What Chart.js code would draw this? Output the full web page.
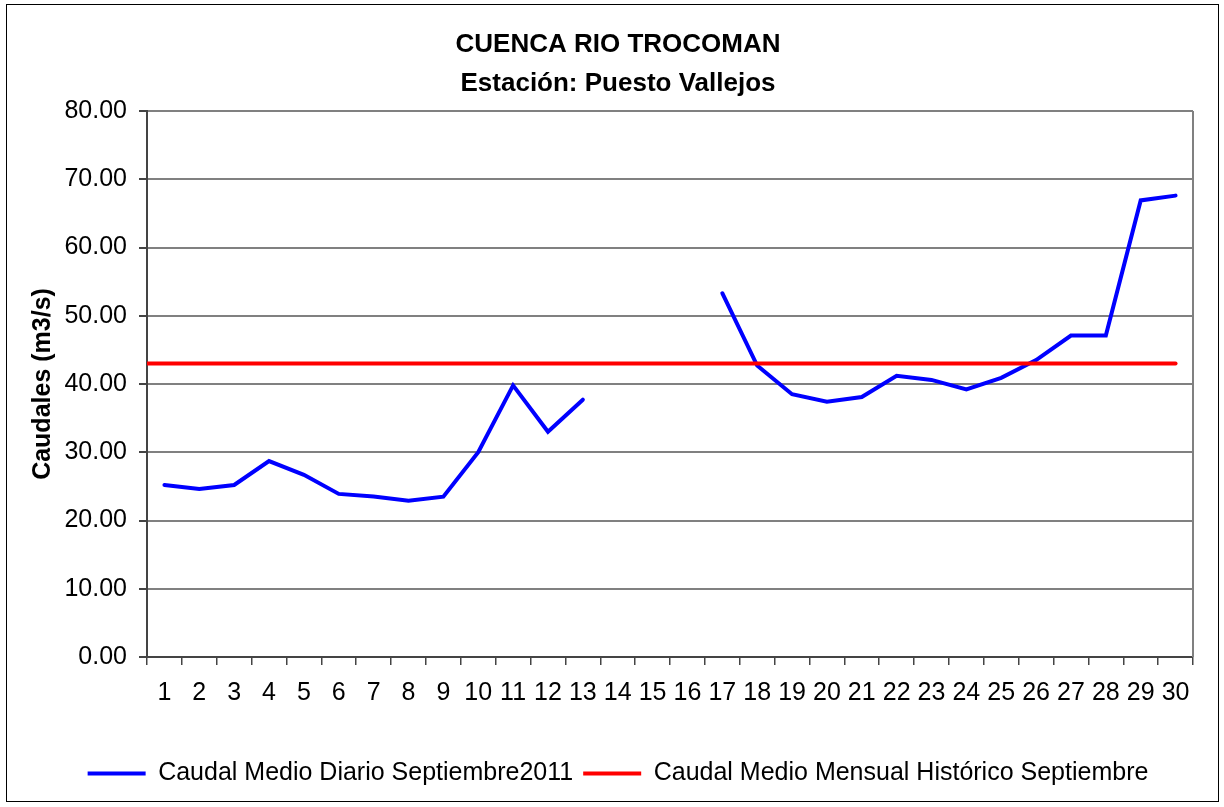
<!DOCTYPE html>
<html>
<head>
<meta charset="utf-8">
<script src="https://cdn.jsdelivr.net/npm/chart.js@4.4.0/dist/chart.umd.min.js"></script>
<style>
  body { margin: 0; background: #fff; }
  canvas { display: block; }
</style>
</head>
<body>
<canvas id="grafico" width="1224" height="807"></canvas>
<script>
// datos
var dias = ['1','2','3','4','5','6','7','8','9','10','11','12','13','14','15',
            '16','17','18','19','20','21','22','23','24','25','26','27','28','29','30'];
var caudalDiario = [25.2, 24.6, 25.2, 28.7, 26.7, 23.9, 23.5, 22.9, 23.5, 30.0,
                    39.8, 33.0, 37.7, null, null, null, 53.3, 42.7, 38.5, 37.4,
                    38.1, 41.2, 40.6, 39.2, 40.9, 43.5, 47.1, 47.1, 66.9, 67.6];
// caudal medio historico: desde el eje (dia 0.5) hasta el dia 30
var historicoDias = [0.5, 30];
var historicoCaudal = [43.0, 43.0];
var tituloLineas = ['CUENCA RIO TROCOMAN', 'Estación: Puesto Vallejos'];
var nombreDiario = 'Caudal Medio Diario Septiembre2011';
var nombreHistorico = 'Caudal Medio Mensual Histórico Septiembre';

var fuente = "'Liberation Sans', Arial, sans-serif";

// marco exterior + borde derecho del area de trazado
var marcoPlugin = {
  id: 'marco',
  beforeDraw: function(chart) {
    var ctx = chart.ctx;
    ctx.save();
    ctx.fillStyle = '#fff';
    ctx.fillRect(0, 0, chart.width, chart.height);
    ctx.restore();
  },
  afterDraw: function(chart) {
    var ctx = chart.ctx, a = chart.chartArea;
    ctx.save();
    ctx.strokeStyle = '#000';
    ctx.lineWidth = 1;
    ctx.strokeRect(6.5, 4.5, chart.width - 12, chart.height - 10);
    ctx.strokeStyle = '#808080';
    ctx.lineWidth = 2;
    ctx.beginPath();
    ctx.moveTo(a.right, a.top);
    ctx.lineTo(a.right, a.bottom);
    ctx.stroke();
    ctx.restore();
  }
};

var config = {
  type: 'line',
  data: {
    labels: dias,
    datasets: [{
      label: nombreDiario,
      data: caudalDiario,
      borderColor: '#0000ff',
      backgroundColor: '#0000ff',
      borderWidth: 4,
      borderCapStyle: 'round',
      pointRadius: 0,
      spanGaps: false,
      tension: 0,
      order: 1,
      xAxisID: 'x'
    }, {
      label: nombreHistorico,
      data: historicoDias.map(function(d, i) { return { x: d, y: historicoCaudal[i] }; }),
      borderColor: '#ff0000',
      backgroundColor: '#ff0000',
      borderWidth: 4,
      borderCapStyle: 'round',
      pointRadius: 0,
      tension: 0,
      order: 0,
      xAxisID: 'xh'
    }]
  },
  options: {
    responsive: false,
    animation: false,
    layout: { padding: { top: 20, left: 12, right: 0, bottom: 11 } },
    plugins: {
      tooltip: { enabled: false },
      title: {
        display: true,
        text: tituloLineas,
        color: '#000',
        font: { family: fuente, size: 26, weight: 'bold', lineHeight: 1.5 },
        padding: { top: 5, bottom: 8 }
      },
      legend: {
        position: 'bottom',
        labels: {
          color: '#000',
          font: { family: fuente, size: 25 },
          boxWidth: 58,
          boxHeight: 4,
          padding: 10,
          sort: function(a, b) { return a.datasetIndex - b.datasetIndex; },
          generateLabels: function(chart) {
            var items = Chart.defaults.plugins.legend.labels.generateLabels(chart);
            items.forEach(function(it) { it.lineWidth = 0; });
            return items;
          }
        }
      }
    },
    scales: {
      x: {
        type: 'category',
        offset: true,
        afterFit: function(scale) { scale.height = 94; },
        grid: {
          display: true,
          offset: true,
          drawOnChartArea: false,
          drawTicks: true,
          tickLength: 8,
          color: '#444',
          lineWidth: 1.5
        },
        border: { display: true, color: '#444', width: 2 },
        ticks: {
          autoSkip: false,
          maxRotation: 0,
          padding: 13,
          color: '#000',
          font: { family: fuente, size: 25 }
        }
      },
      xh: {
        type: 'linear',
        display: false,
        min: 0.5,
        max: 30.5
      },
      y: {
        min: 0,
        max: 80,
        afterFit: function(scale) { scale.width = 135; },
        grid: {
          color: '#808080',
          lineWidth: 2,
          drawTicks: true,
          tickLength: 8,
          tickColor: '#444'
        },
        border: { display: true, color: '#444', width: 2 },
        ticks: {
          stepSize: 10,
          padding: 12,
          color: '#000',
          font: { family: fuente, size: 25 },
          callback: function(v) { return v.toFixed(2); }
        },
        title: {
          display: true,
          text: 'Caudales (m3/s)',
          color: '#000',
          font: { family: fuente, size: 25, weight: 'bold' },
          padding: { top: 16, bottom: 0 }
        }
      },
      // eje vacio a la derecha, solo reserva el margen
      yr: {
        type: 'linear',
        position: 'right',
        min: 0,
        max: 80,
        afterFit: function(scale) { scale.width = 31; },
        grid: { drawOnChartArea: false, drawTicks: false },
        border: { display: false },
        ticks: { display: false }
      }
    }
  },
  plugins: [marcoPlugin]
};

window.myChart = new Chart(document.getElementById('grafico'), config);
</script>
</body>
</html>
